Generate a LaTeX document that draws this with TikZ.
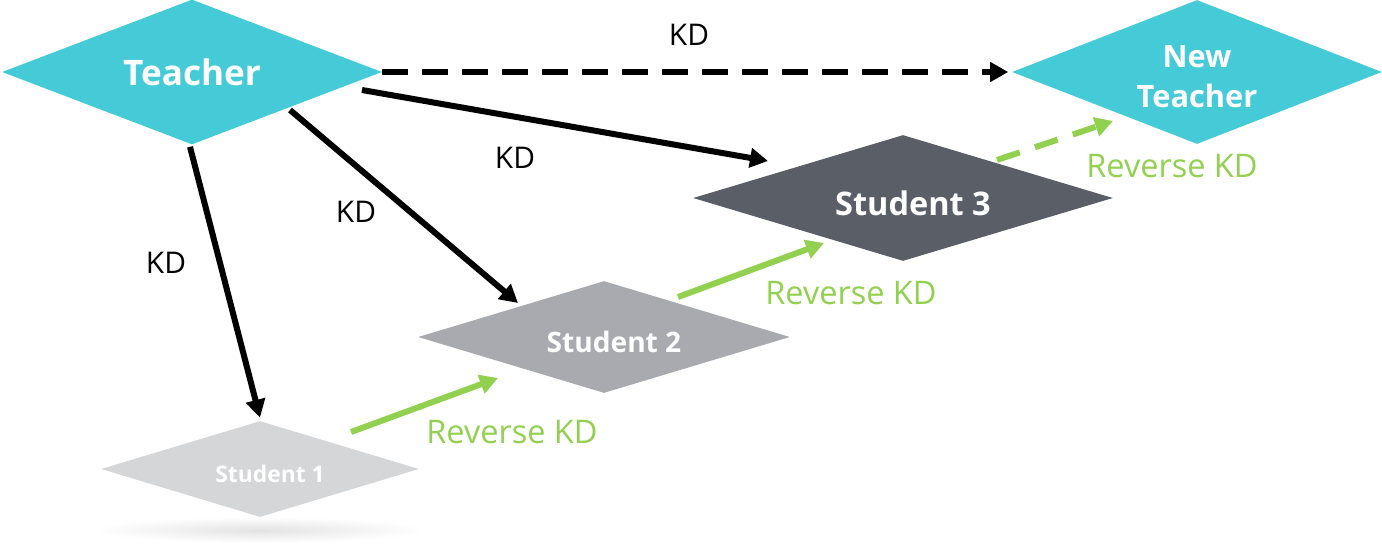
\documentclass[tikz,border=0pt]{standalone}
\usepackage{fontspec}
\setmainfont{Open Sans}
\usetikzlibrary{arrows.meta,shapes.geometric}
\definecolor{tealc}{HTML}{45CBD7}
\definecolor{darkc}{HTML}{5A5E67}
\definecolor{midc}{HTML}{A9AAAF}
\definecolor{lightc}{HTML}{D5D6D8}
\definecolor{greenc}{HTML}{92D050}
% nudge a diamond's text down (and right)
\newcommand{\lowered}[1]{\raisebox{-0.1cm}[\height][\depth]{#1}}
\newcommand{\nudged}[1]{\hspace*{0.4cm}\lowered{#1}}
\tikzset{
  kdnode/.style={diamond,inner sep=0pt,text=white,font=\bfseries},
  kdarrow/.style={line width=0.12cm,-{Triangle[length=0.36cm,width=0.38cm]}},
  revarrow/.style={kdarrow,greenc},
  kdlabel/.style={font=\fontsize{17}{20}\selectfont},
  revlabel/.style={font=\fontsize{18.5}{22}\selectfont,text=greenc}
}
\begin{document}
\begin{tikzpicture}[x=0.02cm,y=-0.02cm]
\useasboundingbox (0,0) rectangle (1382,554);
% soft shadow under the first student
\shade[inner color=black!11,outer color=white] (260,530) ellipse (165 and 13);
\node[kdnode,fill=tealc,aspect=2.62,minimum width=7.6cm,minimum height=2.9cm,font=\bfseries\fontsize{20}{24}\selectfont] (teach) at (192,72) {Teacher};
\node[kdnode,fill=tealc,aspect=2.57,minimum width=7.4cm,minimum height=2.88cm,align=center,font=\bfseries\fontsize{17.5}{22.7}\selectfont] (nteach) at (1197,72) {\lowered{New}\\\lowered{Teacher}};
\node[kdnode,fill=darkc,aspect=3.33,minimum width=8.4cm,minimum height=2.52cm,font=\bfseries\fontsize{18.5}{22}\selectfont] (stud3) at (903,198) {\nudged{Student 3}};
\node[kdnode,fill=midc,aspect=3.32,minimum width=7.44cm,minimum height=2.24cm,font=\bfseries\fontsize{16}{19}\selectfont] (stud2) at (604,337) {\nudged{Student 2}};
\node[kdnode,fill=lightc,aspect=3.31,minimum width=6.36cm,minimum height=1.92cm,font=\bfseries\fontsize{13}{16}\selectfont] (stud1) at (260,469) {\nudged{Student 1}};
% teacher to students
\draw[kdarrow,dash pattern=on 0.52cm off 0.28cm,shorten >=2pt] (teach.east) -- (nteach.west);
\draw[kdarrow] ([shift={(170,18)}]teach.center) -- ([shift={(-135,-37)}]stud3.center);
\draw[kdarrow] ([shift={(98,38)}]teach.center) -- ([shift={(-86,-34)}]stud2.center);
\draw[kdarrow] ([shift={(-2,2)}]teach.south) -- ([shift={(0,-3)}]stud1.north);
% reverse distillation
\draw[revarrow] ([shift={(91,-37)}]stud1.center) -- ([shift={(-106,41)}]stud2.center);
\draw[revarrow] ([shift={(74,-40)}]stud2.center) -- ([shift={(-79,45)}]stud3.center);
\draw[revarrow,dash pattern=on 0.48cm off 0.32cm] ([shift={(94,-38)}]stud3.center) -- ([shift={(-84,49)}]nteach.center);
% labels
\node[kdlabel] (kd0) at (689,35) {KD};
\node[kdlabel] (kd3) at (515,158) {KD};
\node[kdlabel] (kd2) at (356,212) {KD};
\node[kdlabel] (kd1) at (166,263) {KD};
\node[revlabel] (rev1) at (512,432) {Reverse KD};
\node[revlabel] (rev2) at (851,293) {Reverse KD};
\node[revlabel] (rev3) at (1172,166) {Reverse KD};
\end{tikzpicture}
\end{document}
